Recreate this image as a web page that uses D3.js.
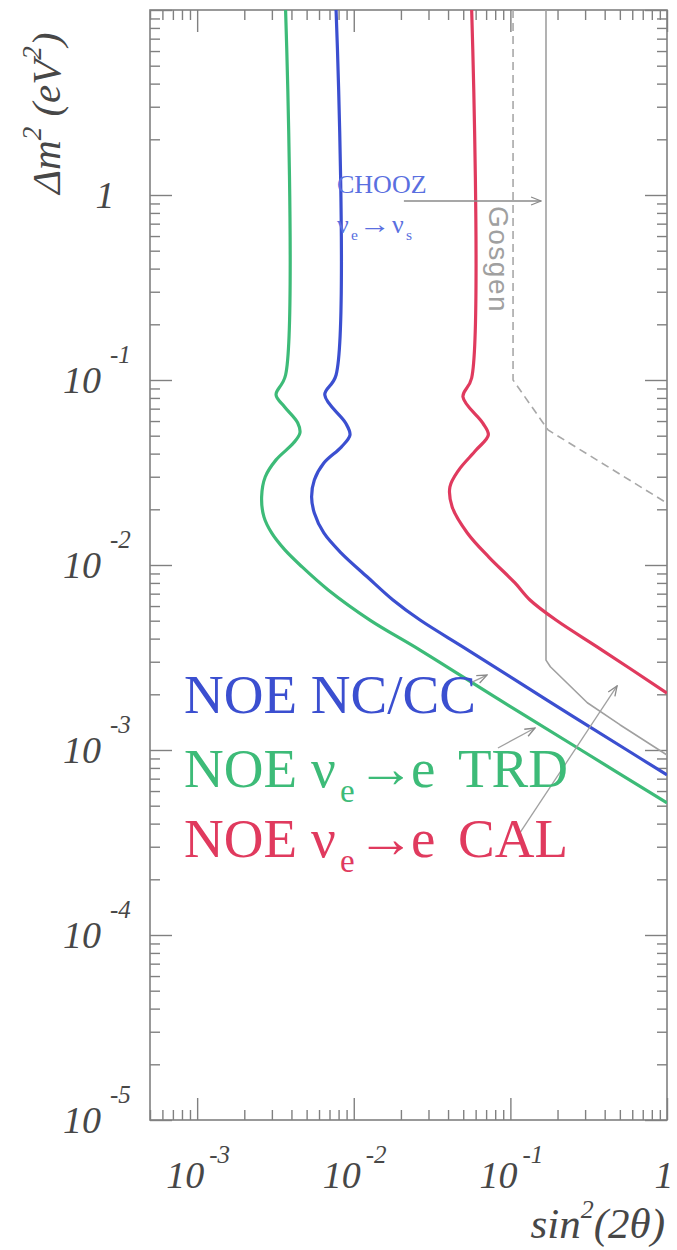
<!DOCTYPE html>
<html><head><meta charset="utf-8">
<script src="https://cdn.jsdelivr.net/npm/d3@7"></script>
<style>body{margin:0;background:#fff}svg{display:block}</style>
</head><body>
<svg id="c" width="677" height="1250"></svg>
<script>
// ---------- data ----------
const xDomain = [5e-4, 1];
const yDomain = [1e-5, 10];
const xTickLabels = [{v:1e-3, b:"10", e:"-3"}, {v:1e-2, b:"10", e:"-2"}, {v:1e-1, b:"10", e:"-1"}, {v:1, b:"1", e:""}];
const yTickLabels = [{v:1e-5, b:"10", e:"-5"}, {v:1e-4, b:"10", e:"-4"}, {v:1e-3, b:"10", e:"-3"}, {v:1e-2, b:"10", e:"-2"}, {v:1e-1, b:"10", e:"-1"}, {v:1, b:"1", e:""}];
// [sin^2(2theta), dm^2]
const noeNCCC = [[0.00771,10],[0.00771,0.1064],[0.00653,0.0830],[0.00887,0.0586],[0.00946,0.0504],[0.00832,0.0434],[0.00644,0.0356],[0.00560,0.0288],[0.00538,0.0233],[0.00560,0.0191],[0.00644,0.0149],[0.00832,0.0116],[0.01222,0.00861],[0.0178,0.00647],[0.0265,0.00504],[0.0536,0.00347],[0.1714,0.00186],[0.555,0.00100],[1.0,0.000733]];
const noeTRD = [[0.00367,10],[0.00367,0.1064],[0.00319,0.0830],[0.00362,0.0715],[0.00439,0.0586],[0.00453,0.0517],[0.00412,0.0456],[0.00319,0.0370],[0.00272,0.0299],[0.00258,0.0233],[0.00267,0.0182],[0.00299,0.0149],[0.00362,0.0121],[0.00468,0.00976],[0.00687,0.00733],[0.01268,0.00504],[0.0265,0.00347],[0.0859,0.00186],[0.2825,0.00100],[1.0,0.000517]];
const noeCAL = [[0.0566,10],[0.0566,0.1025],[0.0498,0.0810],[0.0665,0.0586],[0.0723,0.0504],[0.0604,0.0418],[0.0468,0.0326],[0.0411,0.0264],[0.0425,0.0206],[0.0531,0.0149],[0.0731,0.0110],[0.107,0.0080],[0.1334,0.00647],[0.1955,0.00504],[0.3845,0.00347],[1.0,0.00203]];
const gosgenSolid = [[0.1688,10],[0.1688,0.00306],[0.180,0.00282],[0.31,0.00180],[0.50,0.00137],[1.0,0.00094]];
const gosgenDashed = [[0.104,10],[0.104,0.1],[0.174,0.0537],[1.0,0.0216]];
const choozArrow = [[0.0209,0.928],[0.157,0.928]];
const annotArrows = [
  [[0.0552,0.0023],[0.0709,0.00254]],
  [[0.0833,0.001025],[0.1436,0.001315]],
  [[0.115,0.000356],[0.48,0.00222]]
];
const series = [
  {name:"NOE NC/CC", data:noeNCCC, color:"#3b4fd0"},
  {name:"NOE TRD", data:noeTRD, color:"#3dbb78"},
  {name:"NOE CAL", data:noeCAL, color:"#e03a5e"}
];

// ---------- chart ----------
const svg = d3.select("#c");
const L = 150, R = 667, T = 10, B = 1120;
const X = d3.scaleLog().domain(xDomain).range([L, R]);
const Y = d3.scaleLog().domain(yDomain).range([B, T]);

svg.append("rect").attr("width",677).attr("height",1250).attr("fill","#fff");

function ticksFor(dom){
  const lo = Math.floor(Math.log10(dom[0])), hi = Math.ceil(Math.log10(dom[1]));
  const minor = [], major = [];
  for (let e = lo; e <= hi; e++) for (let m = 1; m <= 9; m++) {
    const v = +(m * Math.pow(10, e)).toPrecision(6);
    if (v < dom[0]*0.999 || v > dom[1]*1.001) continue;
    (m === 1 ? major : minor).push(v);
  }
  return {minor, major};
}
const xt = ticksFor(xDomain), yt = ticksFor(yDomain);
const axCol = "#808080";
function styleAxis(g){ g.select(".domain").remove(); g.selectAll(".tick line").attr("stroke",axCol).attr("stroke-width",1.4); g.selectAll(".tick text").remove(); }
const axes = svg.append("g");
[[xt.minor,10],[xt.major,22]].forEach(([vals,len])=>{
  axes.append("g").attr("transform",`translate(0,${B})`).call(d3.axisBottom(X).tickValues(vals).tickSize(-len)).call(styleAxis);
  axes.append("g").attr("transform",`translate(0,${T})`).call(d3.axisTop(X).tickValues(vals).tickSize(-len)).call(styleAxis);
});
[[yt.minor,10],[yt.major,22]].forEach(([vals,len])=>{
  axes.append("g").attr("transform",`translate(${L},0)`).call(d3.axisLeft(Y).tickValues(vals).tickSize(-len)).call(styleAxis);
  axes.append("g").attr("transform",`translate(${R},0)`).call(d3.axisRight(Y).tickValues(vals).tickSize(-len)).call(styleAxis);
});
svg.append("rect").attr("x",L).attr("y",T).attr("width",R-L).attr("height",B-T)
  .attr("fill","none").attr("stroke",axCol).attr("stroke-width",1.6);

// tick labels
const serif = "'Liberation Serif','Times New Roman',serif";
const labCol = "#474747";
const xl = svg.append("g").attr("font-family",serif).attr("font-style","italic").attr("fill",labCol);
xTickLabels.forEach(d=>{
  const px = X(d.v);
  if (d.e) {
    xl.append("text").attr("x",px+7).attr("y",1188).attr("text-anchor","end").attr("font-size",38).text(d.b);
    xl.append("text").attr("x",px+12).attr("y",1163).attr("text-anchor","start").attr("font-size",25).text(d.e);
  } else {
    xl.append("text").attr("x",px-3).attr("y",1188).attr("text-anchor","middle").attr("font-size",38).text(d.b);
  }
});
yTickLabels.forEach(d=>{
  const py = Y(d.v);
  if (d.e) {
    xl.append("text").attr("x",101).attr("y",py+13).attr("text-anchor","end").attr("font-size",38).text(d.b);
    xl.append("text").attr("x",110).attr("y",py-17).attr("text-anchor","start").attr("font-size",25).text(d.e);
  } else {
    xl.append("text").attr("x",105).attr("y",py+13).attr("text-anchor","middle").attr("font-size",38).text(d.b);
  }
});

// axis titles
const yt1 = svg.append("text").attr("transform","translate(60,194) rotate(-90)")
  .attr("font-family",serif).attr("font-style","italic").attr("font-size",41).attr("fill",labCol);
yt1.append("tspan").text("Δm");
yt1.append("tspan").attr("dy",-19).attr("font-size",27).text("2");
yt1.append("tspan").attr("dy",19).text(" (eV");
yt1.append("tspan").attr("dy",-19).attr("font-size",27).text("2");
yt1.append("tspan").attr("dy",19).text(")");

const xt1 = svg.append("text").attr("x",665).attr("y",1238).attr("text-anchor","end")
  .attr("font-family",serif).attr("font-style","italic").attr("font-size",43).attr("fill",labCol);
xt1.append("tspan").text("sin");
xt1.append("tspan").attr("dy",-20).attr("font-size",26).text("2");
xt1.append("tspan").attr("dy",20).text("(2θ)");

// clip
svg.append("clipPath").attr("id","clip").append("rect").attr("x",L).attr("y",T).attr("width",R-L).attr("height",B-T);
const plot = svg.append("g").attr("clip-path","url(#clip)");

const linLine = d3.line().x(d=>X(d[0])).y(d=>Y(d[1]));
const smooth = d3.line().x(d=>X(d[0])).y(d=>Y(d[1])).curve(d3.curveCatmullRom.alpha(0.5));

plot.append("path").attr("d",linLine(gosgenDashed)).attr("fill","none").attr("stroke","#a8a8a8").attr("stroke-width",1.6).attr("stroke-dasharray","8,5");
plot.append("path").attr("d",linLine(gosgenSolid)).attr("fill","none").attr("stroke","#a0a0a0").attr("stroke-width",1.6).attr("stroke-linejoin","round");

series.forEach(s=>{
  plot.append("path").attr("d",smooth(s.data)).attr("fill","none").attr("stroke",s.color).attr("stroke-width",3.2);
});

// arrows
const defs = svg.append("defs");
defs.append("marker").attr("id","arr").attr("viewBox","0 0 12 12").attr("refX",11).attr("refY",6)
  .attr("markerWidth",12).attr("markerHeight",12).attr("markerUnits","userSpaceOnUse").attr("orient","auto")
  .append("path").attr("d","M1,2 L11,6 L1,10").attr("fill","none").attr("stroke","#8a8a8a").attr("stroke-width",1.3);
svg.append("path").attr("d",linLine(choozArrow)).attr("stroke","#8a8a8a").attr("stroke-width",1.4).attr("fill","none").attr("marker-end","url(#arr)");
annotArrows.forEach(a=>{
  svg.append("path").attr("d",linLine(a)).attr("stroke","#a0a0a0").attr("stroke-width",1.3).attr("fill","none").attr("marker-end","url(#arr)");
});

// helper: a row of text pieces, each placed at its own x; arrows stretched to a given length
function textRow(g, y, size, color, pieces){
  const row = g.append("g").attr("fill",color).attr("font-family",serif);
  pieces.forEach(p=>{
    const t = row.append("text").attr("x",p.x).attr("y",y + (p.sub ? size*0.28 : 0))
      .attr("font-size", p.sub ? size*0.6 : size).text(p.t);
    if (p.len) t.attr("textLength",p.len).attr("lengthAdjust","spacingAndGlyphs");
  });
  return row;
}

// CHOOZ annotation
textRow(svg, 193, 26, "#5a6fe0", [{t:"CHOOZ", x:337}]);
textRow(svg, 233, 26, "#5a6fe0", [
  {t:"ν", x:337}, {t:"e", x:351, sub:true}, {t:"→", x:359, len:32}, {t:"ν", x:392}, {t:"s", x:406, sub:true}
]);

svg.append("text").attr("transform","translate(489,206) rotate(90)")
  .attr("font-family","'Liberation Sans',Arial,sans-serif").attr("font-size",28).attr("letter-spacing",1.5)
  .attr("fill","#a0a0a0").text("Gosgen");

// legend
textRow(svg, 713, 55, "#3b4fd0", [{t:"NOE NC/CC", x:184}]);
[["TRD","#3dbb78",787],["CAL","#e03a5e",857]].forEach(([lab,col,y])=>{
  textRow(svg, y, 55, col, [
    {t:"NOE", x:184}, {t:"ν", x:311}, {t:"e", x:340, sub:true}, {t:"→", x:357, len:58}, {t:"e", x:411}, {t:lab, x:458}
  ]);
});
</script>
</body></html>
